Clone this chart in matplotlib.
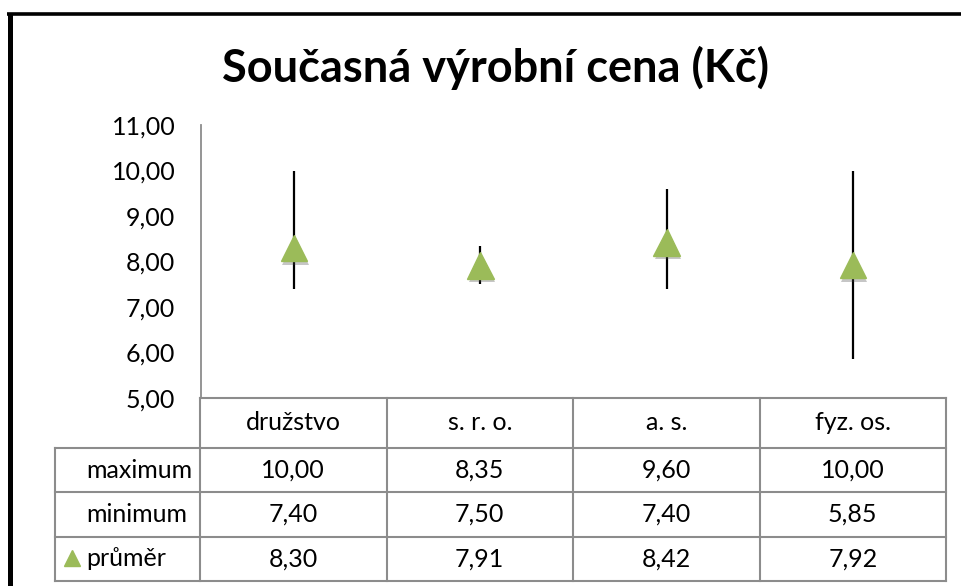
import matplotlib
matplotlib.use("Agg")
import matplotlib.pyplot as plt
import matplotlib.patheffects as pe

# data
categories = ["družstvo", "s. r. o.", "a. s.", "fyz. os."]
maximum = [10.00, 8.35, 9.60, 10.00]
minimum = [7.40, 7.50, 7.40, 5.85]
prumer = [8.30, 7.91, 8.42, 7.92]
row_labels = ["maximum", "minimum", "průměr"]
yticks = [5, 6, 7, 8, 9, 10, 11]

W, H = 961, 586
green = "#9BBB59"
grid_c = "#8c8c8c"
plt.rcParams['font.family'] = ['Lato', 'DejaVu Sans']
FS = 18


def fx(x):
    return x / W


def fy(y):
    return 1 - y / H


def fmt(v):
    return f"{v:.2f}".replace(".", ",")


fig = plt.figure(figsize=(W / 100, H / 100), dpi=100)

# overlay for frame and table (pixel coordinates)
ov = fig.add_axes([0, 0, 1, 1])
ov.set_xlim(0, W)
ov.set_ylim(H, 0)
ov.axis("off")

# black frame
ov.plot([9.5, 9.5], [13, H], color="black", lw=3.6, solid_capstyle="butt")
ov.plot([7, W], [13.5, 13.5], color="black", lw=2.6, solid_capstyle="butt")

# plot
ax = fig.add_axes([fx(201), fy(398), fx(946 - 201), (398 - 125) / H])
ax.set_xlim(-0.5, len(categories) - 0.5)
ax.set_ylim(5, 11)
ax.set_yticks(yticks)
ax.set_yticklabels([fmt(v) for v in yticks], fontsize=FS)
ax.tick_params(axis="y", length=0, pad=18.5)
ax.set_xticks([])
for s in ["top", "right", "bottom"]:
    ax.spines[s].set_visible(False)
ax.spines["left"].set_color(grid_c)
ax.spines["left"].set_linewidth(1.3)
ax.patch.set_alpha(0)

xs = range(len(categories))
ax.vlines(xs, minimum, maximum, color="black", lw=1.6, zorder=2)
ax.plot(xs, prumer, ls="none", marker="^", ms=19, color=green, zorder=3,
        path_effects=[pe.SimplePatchShadow(offset=(1.0, -2.5), alpha=0.3, shadow_rgbFace="#444444"),
                      pe.Normal()])

fig.text(fx(495), fy(68), "Současná výrobní cena (Kč)", fontsize=32.5, fontweight="bold",
         ha="center", va="center")

# table
col_x = [200, 386.5, 573, 759.5, 946]
row_y = [398, 448, 492, 537, 581]
lab_x = 55
lw = 1.5
ov.plot([col_x[0], col_x[-1]], [row_y[0], row_y[0]], color=grid_c, lw=lw)
for y in row_y[1:]:
    ov.plot([lab_x, col_x[-1]], [y, y], color=grid_c, lw=lw)
for x in col_x:
    ov.plot([x, x], [row_y[0], row_y[-1]], color=grid_c, lw=lw)
ov.plot([lab_x, lab_x], [row_y[1], row_y[-1]], color=grid_c, lw=lw)

for i, c in enumerate(categories):
    cx = (col_x[i] + col_x[i + 1]) / 2
    ov.text(cx, (row_y[0] + row_y[1]) / 2, c, fontsize=FS, ha="center", va="center")

rows = [maximum, minimum, prumer]
for r, (lab, vals) in enumerate(zip(row_labels, rows)):
    cy = (row_y[r + 1] + row_y[r + 2]) / 2
    ov.text(86, cy, lab, fontsize=FS, ha="left", va="center")
    for i, v in enumerate(vals):
        cx = (col_x[i] + col_x[i + 1]) / 2
        ov.text(cx, cy, fmt(v), fontsize=FS, ha="center", va="center")

# legend key in the table
ov.plot([72], [(row_y[3] + row_y[4]) / 2 - 1], marker="^", ms=12, color=green, ls="none")

fig.savefig("out.png", dpi=100)
